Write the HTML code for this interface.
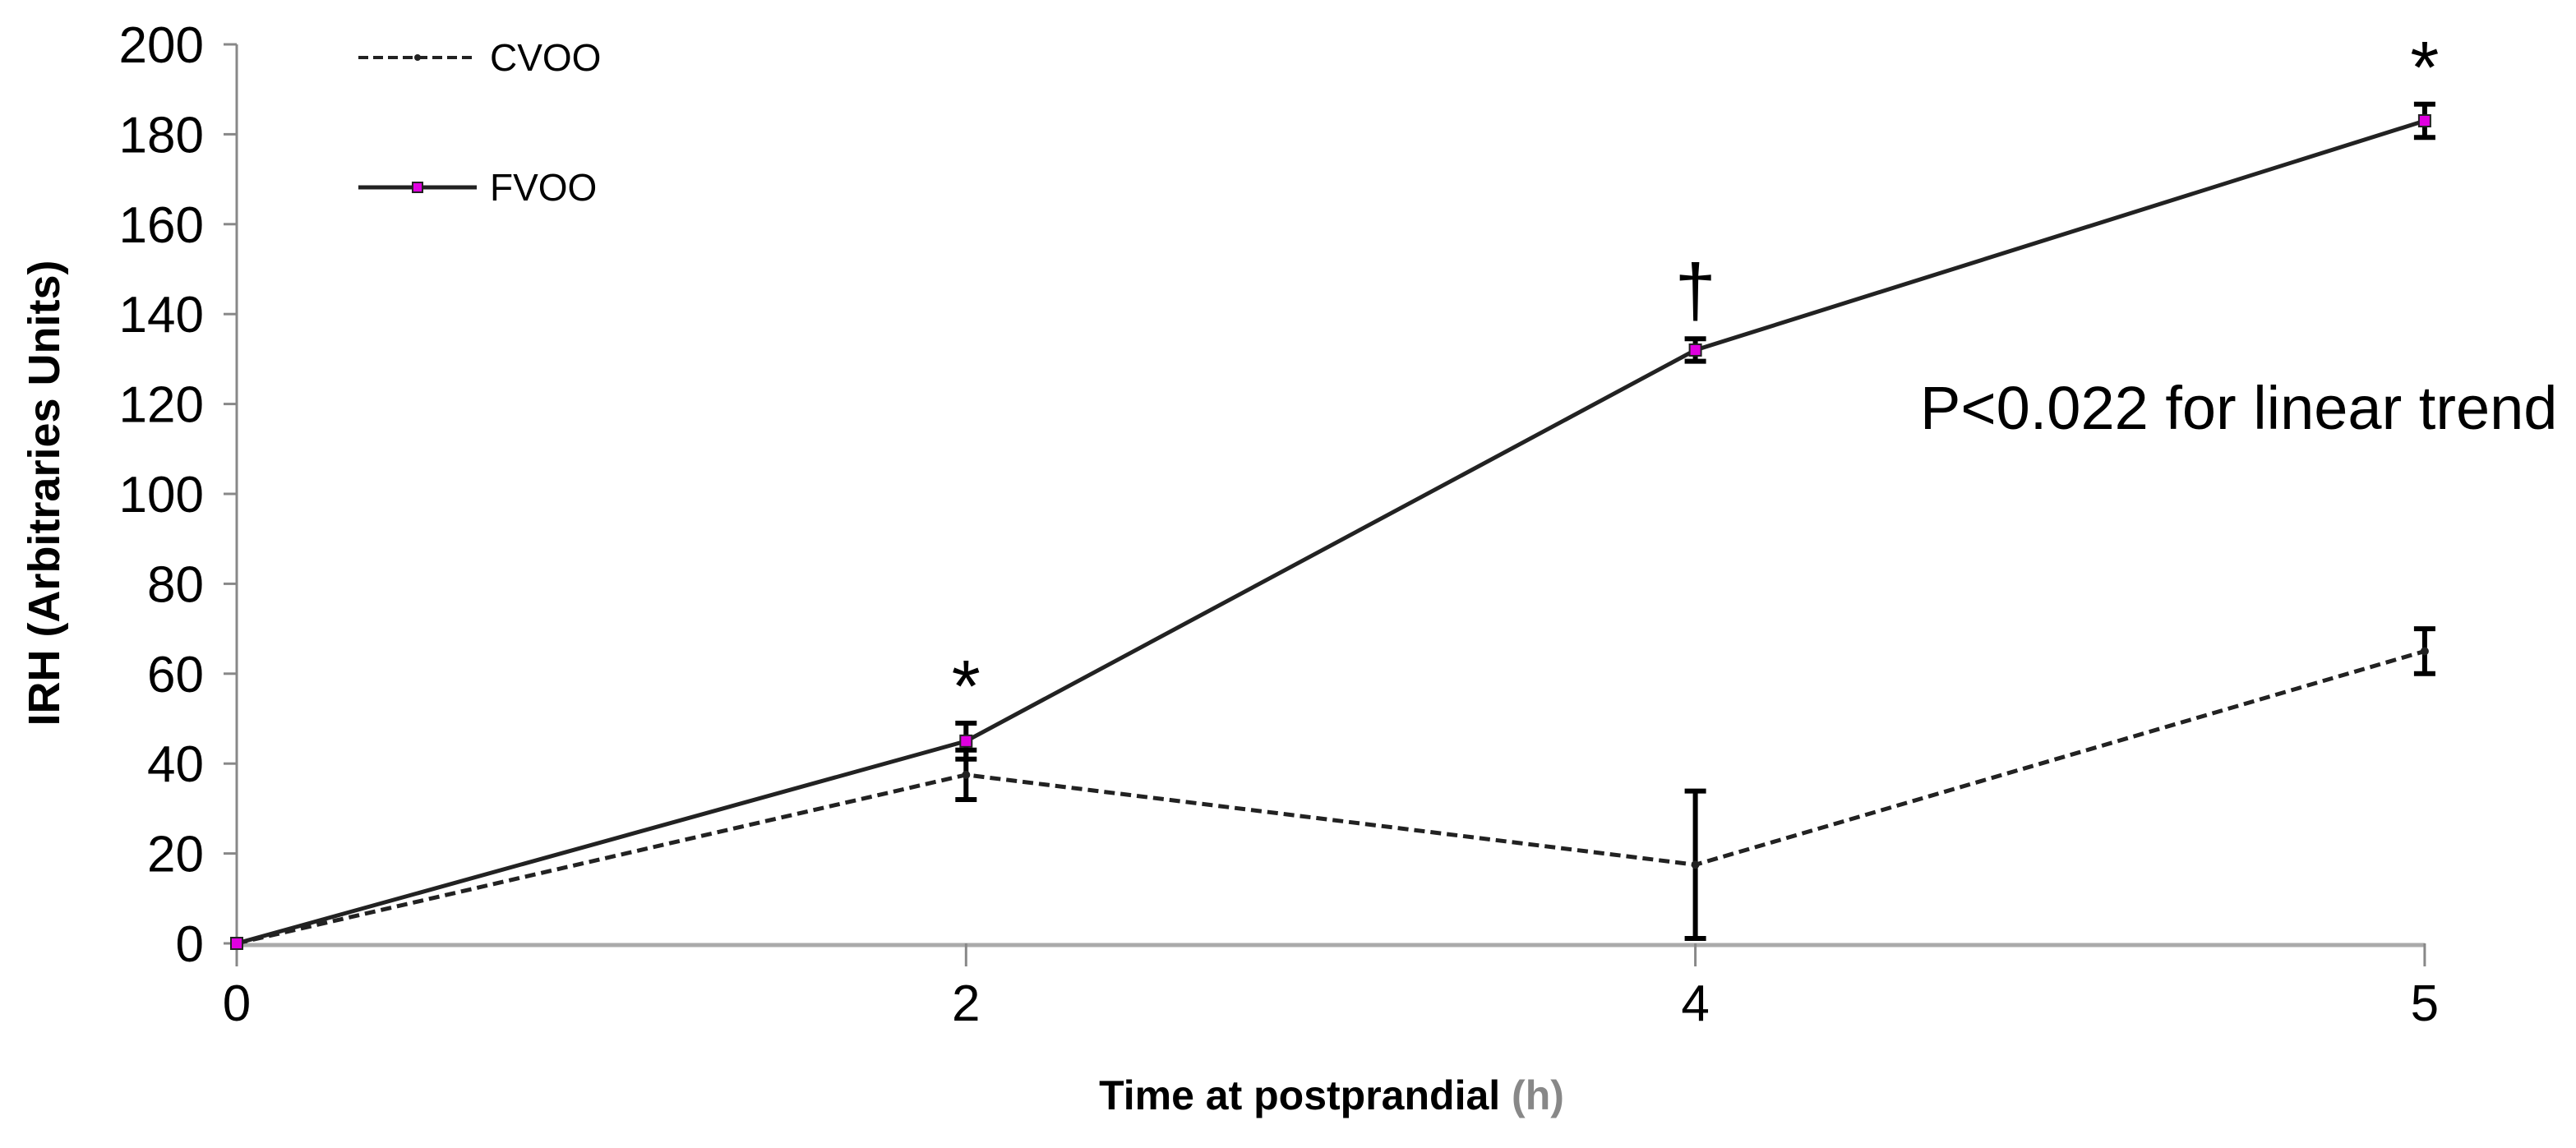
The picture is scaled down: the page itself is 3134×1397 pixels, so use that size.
<!DOCTYPE html>
<html><head><meta charset="utf-8"><style>
html,body{margin:0;padding:0;background:#fff;}
svg{display:block;}
text{font-family:"Liberation Sans",Arial,sans-serif;}
.tick{font-family:"Liberation Sans Narrow","Liberation Sans",sans-serif;font-size:62px;fill:#000;}
</style></head><body>
<svg id="chart" width="3134" height="1397" viewBox="0 0 3134 1397" xmlns="http://www.w3.org/2000/svg">
<g id="axes"></g>
<g id="series"></g>
<text x="0" y="0" transform="translate(72,600) rotate(-90)" text-anchor="middle" font-size="54" font-weight="bold">IRH (Arbitraries Units)</text>
<text x="1620" y="1350" text-anchor="middle" font-size="50" font-weight="bold">Time at postprandial <tspan fill="#888">(h)</tspan></text>
<text x="2336" y="522" font-size="74">P&lt;0.022 for linear trend</text>
<g>
  <line x1="436" y1="70" x2="580" y2="70" stroke="#222" stroke-width="4" stroke-dasharray="12,6"/>
  <circle cx="508" cy="70" r="4" fill="#222"/>
  <text x="596" y="86" font-size="46">CVOO</text>
  <line x1="436" y1="228" x2="580" y2="228" stroke="#222" stroke-width="5"/>
  <rect x="502" y="222" width="12" height="12" fill="#e000e0" stroke="#222" stroke-width="2"/>
  <text x="596" y="244" font-size="46">FVOO</text>
</g>
</svg>
<script>
const categories = ["0","2","4","5"];
const cvooValues = [0, 37.5, 17.5, 65];
const cvooErrors = [0, 5.5, 16.4, 5];
const fvooValues = [0, 45, 132, 183];
const fvooErrors = [0, 4, 2.5, 3.7];
const yTicks = [0,20,40,60,80,100,120,140,160,180,200];
const markers = ["", "*", "†", "*"];

const NS="http://www.w3.org/2000/svg";
const X0=288, XSTEP=887.3, Y0=1148, YMAX=54;
function xPos(i){ return X0+i*XSTEP; }
function yPos(v){ return Y0-(v/200)*(Y0-YMAX); }
function mk(tag,attrs,parent){const e=document.createElementNS(NS,tag);for(const k in attrs)e.setAttribute(k,attrs[k]);parent.appendChild(e);return e;}
const axes=document.getElementById('axes'), series=document.getElementById('series');

let e=mk('line',{x1:X0,y1:YMAX,x2:X0,y2:Y0+12,stroke:'#888','stroke-width':3},axes);


yTicks.forEach(t=>{
  const y=yPos(t);
  const l=mk('line',{x1:X0-16,y1:y,x2:X0,y2:y,stroke:'#888','stroke-width':3},axes);
  
  
  const tx=mk('text',{x:X0-40,y:y+22,'text-anchor':'end','class':'tick'},axes);
  tx.textContent=t;
  
  
});
e=mk('line',{x1:X0,y1:Y0+2,x2:xPos(3),y2:Y0+2,stroke:'#aaa','stroke-width':5},axes);


categories.forEach((c,i)=>{
  const x=xPos(i);
  const l=mk('line',{x1:x,y1:Y0,x2:x,y2:Y0+28,stroke:'#888','stroke-width':3},axes);
  
  
  const tx=mk('text',{x:x,y:1242,'text-anchor':'middle','class':'tick'},axes);
  tx.textContent=c;
  
  
});

function drawSeries(vals,errs,name,dash,width){
  const pts=vals.map((v,i)=>xPos(i)+','+yPos(v)).join(' ');
  const pl=mk('polyline',{points:pts,fill:'none',stroke:'#222','stroke-width':width,'stroke-dasharray':dash},series);
  
  
  vals.forEach((v,i)=>{
    if(errs[i]>0){
      const x=xPos(i), yt=yPos(v+errs[i]), yb=yPos(v-errs[i]);
      const g=mk('path',{d:`M${x},${yt}V${yb}M${x-13},${yt}H${x+13}M${x-13},${yb}H${x+13}`,stroke:'#000','stroke-width':6,fill:'none'},series);
      
      
    }
  });
}
drawSeries(cvooValues,cvooErrors,'cvoo','13,7',5);
drawSeries(fvooValues,fvooErrors,'fvoo','none',5);
cvooValues.forEach((v,i)=>{
  const c=mk('circle',{cx:xPos(i),cy:yPos(v),r:5,fill:'#222'},series);
  
  
});
fvooValues.forEach((v,i)=>{
  const r=mk('rect',{x:xPos(i)-7,y:yPos(v)-7,width:14,height:14,fill:'#e000e0',stroke:'#222','stroke-width':2},series);
  
  
});
markers.forEach((m,i)=>{
  if(!m)return;
  const top=yPos(fvooValues[i]+fvooErrors[i]);
  const t=mk('text',{x:xPos(i),y:m==='†'?top-28:top-14,'text-anchor':'middle','font-size':m==='†'?90:90,'font-family':'"DejaVu Sans",sans-serif','font-weight':'normal'},series);
  t.textContent=m;
  
  
});
</script>
</body></html>
